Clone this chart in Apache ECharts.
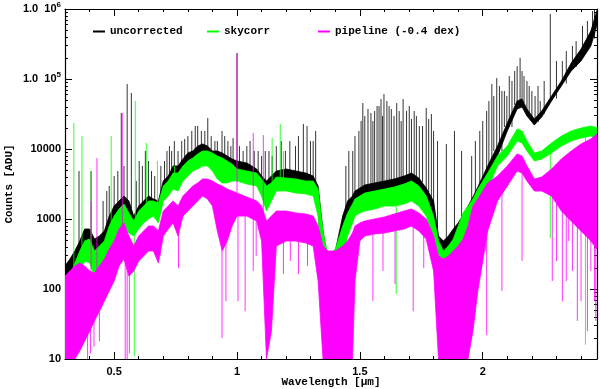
<!DOCTYPE html>
<html>
<head>
<meta charset="utf-8">
<script src="https://cdn.jsdelivr.net/npm/echarts@6.0.0/dist/echarts.min.js"></script>
<style>
  html, body { margin: 0; padding: 0; background: #fff; }
  #chart { width: 600px; height: 389px; }
</style>
</head>
<body>
<div id="chart"></div>
<script>
// wavelength knots (micron) shared by the three spectra envelopes
const wl = [0.30,0.32,0.34,0.36,0.38,0.40,0.42,0.44,0.46,0.48,0.50,0.52,0.54,0.56,0.58,0.60,0.62,0.64,0.66,0.68,
  0.70,0.72,0.74,0.76,0.78,0.80,0.82,0.84,0.86,0.88,0.90,0.92,0.94,0.96,0.98,1.00,1.04,1.08,1.10,1.12,
  1.14,1.16,1.20,1.24,1.28,1.31,1.33,1.35,1.37,1.40,1.43,1.45,1.47,1.48,1.50,1.52,1.56,1.60,1.64,1.68,
  1.71,1.74,1.77,1.80,1.82,1.84,1.86,1.88,1.90,1.92,1.94,1.96,1.98,2.02,2.06,2.10,2.14,2.16,2.18,2.21,
  2.24,2.28,2.32,2.36,2.40,2.44,2.47]

// uncorrected: upper / lower edge of the noise band (counts)
const rawHi = [213,268,349,485,720,720,518,572,674,1100,1530,1810,2130,1810,1100,1530,1810,2130,1930,1810,
  3490,4110,5720,5720,7200,8770,9360,11000,11800,11000,9360,9360,8770,7940,7200,6740,6310,5180,4110,3490,
  4110,4850,5180,4850,4540,4110,2960,674,251,349,1100,1810,2130,2510,2770,3060,3270,3490,3730,4110,
  4540,3850,2770,1810,572,485,572,720,877,1140,1530,2060,2860,5720,11000,23500,48500,51800,37300,26800,
  34900,57200,93600,169000,268000,485000,1100000]
const rawLo = [67,110,181,268,411,385,296,327,373,572,877,1100,1300,1100,720,936,1180,1300,1300,1100,
  2130,2680,3490,3490,4540,5530,6310,7200,7430,7200,6110,5720,5180,4850,4540,4110,3850,3270,2510,2130,
  2680,3160,3270,3060,2860,2510,1530,94,67,94,411,794,1100,1930,2130,2350,2510,2680,2860,3160,
  3490,2960,2130,794,296,268,349,454,572,769,1000,1390,1930,3730,7940,18100,37300,39800,29600,22000,
  28600,48500,79400,130000,181000,296000,674000]

// skycorr
const skyHi = [85,153,235,349,485,518,349,411,485,794,1100,1390,1640,1220,936,1300,1530,1810,1810,1690,
  2960,3490,4540,4540,5720,6740,7430,8490,9360,9360,8770,7940,7430,6740,6110,5180,4850,4540,3730,2960,
  3270,3980,3850,3730,3490,3490,2680,674,296,373,794,1220,1640,1930,2130,2350,2510,2680,2860,3160,
  3490,2960,2130,1100,485,349,411,518,794,1220,1530,1930,2680,4540,7940,11000,19300,18100,13000,8770,
  9360,12200,15300,18100,19900,21300,19900]
const skyLo = [30,57,110,169,251,235,153,193,235,373,485,720,794,631,572,720,877,1000,1100,877,
  1810,2130,2680,2510,3490,4110,4850,5180,5720,5720,4850,3730,3270,3270,3490,3490,3160,2960,2130,1300,
  1810,2510,2510,2350,2280,2130,1100,94,48,67,251,572,877,1100,1220,1300,1390,1530,1530,1640,
  1810,1530,1100,485,153,94,110,153,251,411,572,794,1220,2680,5720,7940,13000,12200,9360,6740,
  7200,8770,11000,13000,14400,15300,13900]

// pipeline (-0.4 dex)
const pipeHi = [153,181,213,235,213,181,169,213,268,373,485,720,877,572,411,572,674,794,794,674,
  1300,1530,1810,1530,2130,2510,2960,3270,3730,3730,3490,3160,2960,2680,2510,2350,2060,1810,1530,936,
  1100,1300,1300,1220,1180,1100,794,411,349,349,411,485,631,794,877,936,1000,1070,1180,1300,
  1390,1220,1000,572,296,268,296,349,411,518,794,1530,1930,3270,4110,5720,8490,7940,5720,3730,
  3980,5180,7200,9360,11800,13900,16900]
const pipeLo = [10,10,10,13,18,25,35,48,67,94,130,213,268,153,181,251,296,349,349,235,
  572,720,877,572,1100,1300,1530,1810,2130,1930,1530,674,349,485,794,1100,1100,936,485,10,
  25,411,485,485,454,411,130,10,10,10,10,10,10,130,485,572,611,631,674,720,
  794,674,518,181,10,10,10,10,10,10,10,25,94,674,1810,2960,4850,4540,3490,2510,
  2510,2130,1300,936,674,485,349]

// sharp emission lines above the bands
const rawSpikeWl = [0.357,0.406,0.480,0.529,0.553,0.570,0.602,0.627,0.652,0.705,0.734,0.787,0.816,0.840,0.869,0.881,
  0.910,0.939,0.963,0.984,1.000,1.025,1.053,1.086,1.115,1.143,1.197,1.238,1.270,1.299,1.320,1.443,1.471,1.496,
  1.512,1.533,1.553,1.570,1.586,1.598,1.619,1.639,1.660,1.676,1.701,1.721,1.742,1.770,1.791,1.816,1.852,1.885,
  1.914,1.955,1.988,2.016,2.037,2.057,2.078,2.098,2.119,2.152,2.168,2.189,2.213,2.234,2.275,2.324,2.365,2.406,
  2.426,2.447,
  0.455,0.470,0.500,0.515,0.540,0.590,0.615,0.640,0.665,0.690,0.715,0.725,0.745,0.760,0.775,0.800,0.830,0.855,
  0.895,0.920,0.950,0.975,1.010,1.040,1.070,1.100,1.130,1.160,1.180,1.215,1.250,1.285,1.310,
  1.455,1.480,1.505,1.520,1.545,1.560,1.578,1.592,1.610,1.628,1.650,1.668,1.690,1.710,1.730,1.755,1.780,1.800,
  1.970,2.000,2.025,2.045,2.068,2.088,2.108,2.130,2.140,2.160,2.180,2.200,2.225,2.250,2.300,2.340,2.380,2.455]
const rawSpikeTop = [4850,4850,2960,32700,84900,63100,6740,9360,4850,6740,9360,13900,18100,21300,18100,27700,
  13000,18100,13000,14400,235000,9360,13000,9360,9360,7940,9360,11000,22800,13000,18100,5720,9360,18100,
  45400,37300,25100,41100,51800,61000,41100,29600,34900,51800,41100,34900,21300,38500,31600,13000,11800,18100,
  9360,7940,18100,34900,84900,103000,67400,57200,93600,200000,110000,79400,57200,48500,849000,181000,296000,572000,
  674000,936000,
  1810,2510,4110,4850,5720,3490,5720,6740,4110,5720,9360,11000,13000,9360,13000,15300,21300,18100,
  15300,13000,15300,11000,11000,11000,9360,7940,9360,11000,13000,13000,15300,21300,13000,
  9360,15300,25100,29600,32700,34900,41100,29600,48500,37300,45400,25100,34900,26800,29600,21300,26800,18100,
  13000,25100,48500,57200,79400,67400,110000,130000,153000,130000,93600,67400,79400,93600,181000,251000,349000,1100000]
const skySpikeWl = [0.336,0.369,0.406,0.488,0.586,0.631,0.676,0.746,1.143,1.176,1.189]
const skySpikeTop = [23500,15300,4850,15300,48500,12200,6740,5720,14400,22800,9360]
const pipeSpikeWl = [0.406,0.430,0.533,1.000,1.066,1.107]
const pipeSpikeTop = [1810,7430,32700,235000,16900,15800]

// absorption lines below the bands
const skyDipWl = [0.582,1.648,2.012,2.275,2.418]
const skyDipBottom = [11,85,350,535,16]
const pipeDipWl = [0.392,0.404,0.418,0.440,0.545,0.553,0.562,0.687,0.762,0.939,0.955,1.004,1.033,1.066,1.078,
  1.189,1.217,1.250,1.287,1.553,1.594,1.643,1.717,1.760,2.016,2.078,2.160,2.283,2.324,2.365,2.385,2.426,2.455,
  2.300,2.340,2.350,2.400,2.440,2.460]
const pipeDipBottom = [10,12,15,18,10,10,12,300,200,20,67,67,48,181,296,164,251,164,213,67,181,118,48,200,
  22,94,251,130,67,181,35,25,67,
  251,130,485,67,181,35]

const xMajor = [0.5, 1, 1.5, 2]
const names = ['uncorrected', 'skycorr', 'pipeline (-0.4 dex)']
const colors = ['#000000', '#00ff00', '#ff00ff']

const monoFont = '"Liberation Mono", "DejaVu Sans Mono", monospace'
const numFont = '"Liberation Sans", Arial, sans-serif'

// minor tick positions of the log axis, in log10 space
const yMinorLog = []
for (let d = 1; d < 6; d++) {
  for (let k = 2; k <= 9; k++) yMinorLog.push(d + Math.log10(k))
}

function bandSeries(name, color, hi, lo) {
  return {
    type: 'custom',
    name,
    clip: true,
    silent: true,
    itemStyle: { color },
    data: [[wl[0], hi[0]]],
    renderItem(params, api) {
      const top = wl.map((w, i) => api.coord([w, hi[i]]))
      const bot = wl.map((w, i) => api.coord([w, lo[i]])).reverse()
      return {
        type: 'polygon',
        shape: { points: top.concat(bot) },
        style: { fill: color, stroke: color, lineWidth: 0.8 },
      }
    },
  }
}

function nearestMid(hi, lo, w) {
  let k = 0
  for (let i = 1; i < wl.length; i++) {
    if (Math.abs(wl[i] - w) < Math.abs(wl[k] - w)) k = i
  }
  return Math.sqrt(hi[k] * lo[k])
}

function lineSeries(name, color, ws, ends, hi, lo, width) {
  return {
    type: 'custom',
    name,
    clip: true,
    silent: true,
    itemStyle: { color },
    data: ws.map((w, i) => [w, ends[i]]),
    renderItem(params, api) {
      const w = api.value(0)
      const p1 = api.coord([w, nearestMid(hi, lo, w)])
      const p2 = api.coord([w, api.value(1)])
      return {
        type: 'line',
        shape: { x1: p1[0], y1: p1[1], x2: p2[0], y2: p2[1] },
        style: { stroke: color, lineWidth: width },
      }
    },
  }
}

const chart = echarts.init(document.getElementById('chart'), null, { renderer: 'canvas' })

const axisLine = { show: true, lineStyle: { color: '#000', width: 1.2 } }
const xBase = { type: 'value', min: 0.3, max: 2.465, splitLine: { show: false }, gridIndex: 0 }
const yLogBase = { type: 'log', logBase: 10, min: 10, max: 1000000, splitLine: { show: false }, gridIndex: 0 }
const yLinBase = { type: 'value', min: 1, max: 6, splitLine: { show: false }, gridIndex: 0 }

function legendAt(left, i) {
  return {
    left,
    top: 21,
    data: [{ name: names[i], itemStyle: { color: colors[i], opacity: 1 } }],
    icon: 'rect',
    itemWidth: 12,
    itemHeight: 2,
    selectedMode: false,
    textStyle: { fontFamily: monoFont, fontSize: 11, fontWeight: 'bold', color: '#000' },
  }
}

const option = {
  animation: false,
  backgroundColor: '#fff',
  grid: { left: 65, right: 3, top: 9, bottom: 30, containLabel: false, outerBoundsMode: 'none' },
  legend: [legendAt(88, 0), legendAt(202, 1), legendAt(313, 2)],
  xAxis: [
    {
      ...xBase,
      position: 'bottom',
      axisLine,
      axisTick: { inside: true, length: 7, customValues: xMajor, lineStyle: { color: '#000' } },
      axisLabel: {
        customValues: xMajor,
        margin: 7,
        color: '#000',
        fontFamily: numFont,
        fontSize: 11,
        fontWeight: 'bold',
        formatter: v => String(v),
      },
      name: 'Wavelength [μm]',
      nameLocation: 'middle',
      nameGap: 18,
      nameMoveOverlap: false,
      nameTextStyle: { fontFamily: monoFont, fontSize: 11, fontWeight: 'bold', color: '#000' },
    },
    {
      ...xBase,
      position: 'bottom',
      interval: 0.1,
      axisLine: { show: false },
      axisTick: { inside: true, length: 3, lineStyle: { color: '#000' } },
      axisLabel: { show: false },
    },
    {
      ...xBase,
      position: 'top',
      axisLine,
      axisTick: { inside: true, length: 7, customValues: xMajor, lineStyle: { color: '#000' } },
      axisLabel: { show: false },
    },
    {
      ...xBase,
      position: 'top',
      interval: 0.1,
      axisLine: { show: false },
      axisTick: { inside: true, length: 3, lineStyle: { color: '#000' } },
      axisLabel: { show: false },
    },
  ],
  yAxis: [
    {
      ...yLogBase,
      position: 'left',
      axisLine,
      axisTick: { inside: true, length: 7, lineStyle: { color: '#000' } },
      axisLabel: {
        margin: 4,
        color: '#000',
        formatter: v => {
          const e = Math.round(Math.log10(v))
          return e >= 5 ? '{a|1.0  10}{s|' + e + '}' : '{a|' + Math.round(v) + '}'
        },
        rich: {
          a: { fontFamily: numFont, fontSize: 11, fontWeight: 'bold', color: '#000', lineHeight: 16 },
          s: { fontFamily: numFont, fontSize: 8, fontWeight: 'bold', color: '#000', lineHeight: 10, verticalAlign: 'top' },
        },
      },
      name: 'Counts [ADU]',
      nameLocation: 'middle',
      nameGap: 50,
      nameMoveOverlap: false,
      nameTextStyle: { fontFamily: monoFont, fontSize: 11, fontWeight: 'bold', color: '#000' },
    },
    {
      ...yLinBase,
      position: 'left',
      axisLine: { show: false },
      axisTick: { inside: true, length: 3, customValues: yMinorLog, lineStyle: { color: '#000' } },
      axisLabel: { show: false },
    },
    {
      ...yLogBase,
      position: 'right',
      axisLine,
      axisTick: { inside: true, length: 7, lineStyle: { color: '#000' } },
      axisLabel: { show: false },
    },
    {
      ...yLinBase,
      position: 'right',
      axisLine: { show: false },
      axisTick: { inside: true, length: 3, customValues: yMinorLog, lineStyle: { color: '#000' } },
      axisLabel: { show: false },
    },
  ],
  series: [
    bandSeries(names[0], colors[0], rawHi, rawLo),
    lineSeries(names[0], colors[0], rawSpikeWl, rawSpikeTop, rawHi, rawLo, 0.8),
    bandSeries(names[1], colors[1], skyHi, skyLo),
    lineSeries(names[1], colors[1], skySpikeWl, skySpikeTop, skyHi, skyLo, 0.8),
    lineSeries(names[1], colors[1], skyDipWl, skyDipBottom, skyHi, skyLo, 0.8),
    bandSeries(names[2], colors[2], pipeHi, pipeLo),
    lineSeries(names[2], colors[2], pipeSpikeWl, pipeSpikeTop, pipeHi, pipeLo, 0.8),
    lineSeries(names[2], colors[2], pipeDipWl, pipeDipBottom, pipeHi, pipeLo, 0.8),
  ],
}

chart.setOption(option)
</script>
</body>
</html>
